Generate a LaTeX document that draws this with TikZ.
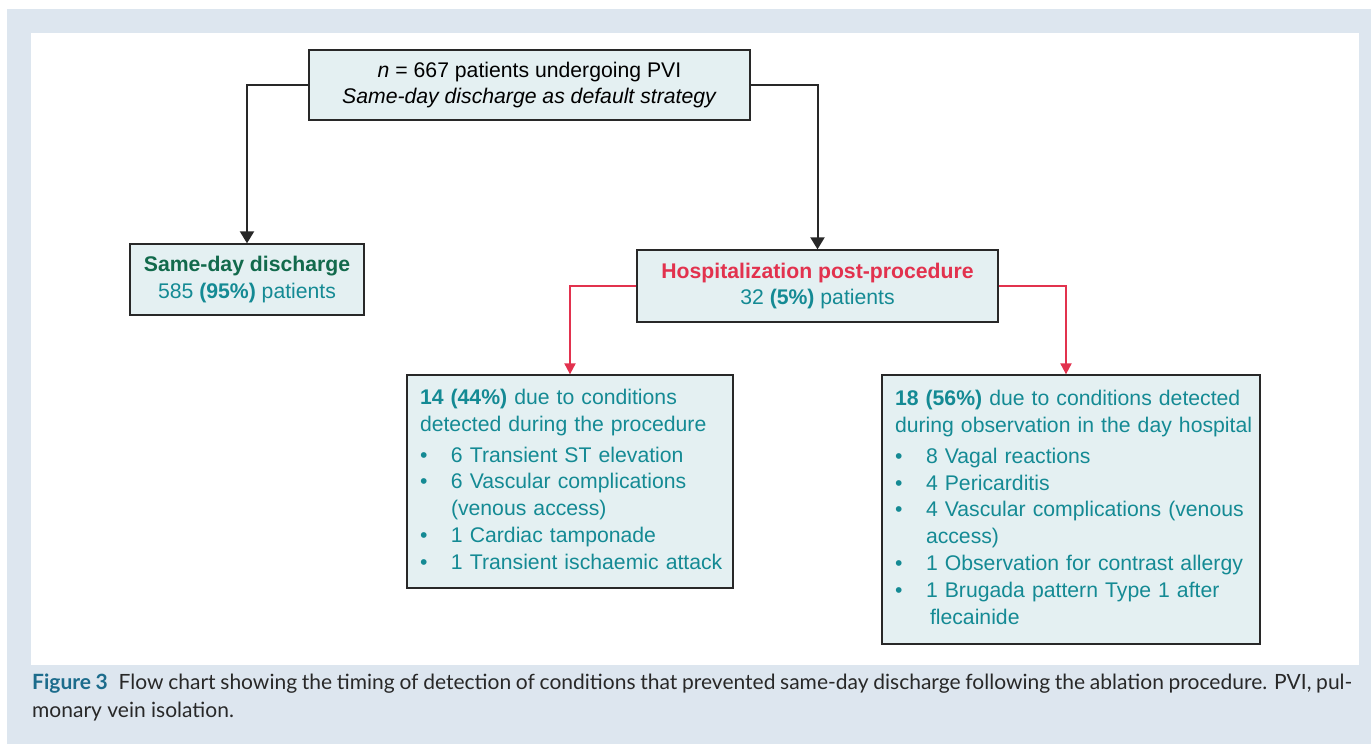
\documentclass[tikz,border=0pt]{standalone}
\usepackage{fontspec}
\setmainfont{Liberation Sans}
\newfontfamily\capfont{Lato}
\usetikzlibrary{arrows.meta}

\definecolor{bandblue}{RGB}{221,230,239}
\definecolor{boxfill}{RGB}{228,240,242}
\definecolor{tealtext}{RGB}{20,138,148}
\definecolor{greentext}{RGB}{18,106,76}
\definecolor{redtext}{RGB}{226,50,78}
\definecolor{linegrey}{RGB}{40,40,40}
\definecolor{figblue}{RGB}{28,108,140}
\definecolor{captext}{RGB}{40,40,40}

\newcommand\boxfont{\fontsize{21.2pt}{26.8pt}\selectfont}
\newcommand\capsize{\capfont\fontsize{21pt}{28pt}\selectfont}
\newcommand\bul{\makebox[31pt][l]{\textbullet}}

\tikzset{
  flowbox/.style={draw=linegrey, line width=1.3pt, fill=boxfill, font=\boxfont, inner sep=0pt},
  listbox/.style={flowbox, align=left, inner xsep=13pt, text=tealtext},
  blackarrow/.style={draw=linegrey, line width=2pt, -{Triangle[width=14pt,length=12pt]}},
  redarrow/.style={draw=redtext, line width=2pt, -{Triangle[width=11pt,length=11pt]}},
  captionline/.style={anchor=base west, inner sep=0pt, font=\capsize, text=captext},
}

\begin{document}
\begin{tikzpicture}[x=1pt, y=-1pt]
    \useasboundingbox (0,0) rectangle (1371,744);
    \fill[white] (0,0) rectangle (1371,744);
    \fill[bandblue] (7,9) rectangle (1371,744);
    \fill[white] (31,33) rectangle (1359,665);

    \node[flowbox, align=center, minimum width=441pt, minimum height=70pt, text=black] (start) at (529.5,85)
        {\textit{n} = 667 patients undergoing PVI\\ \textit{Same-day discharge as default strategy}};
    \node[flowbox, align=center, minimum width=234pt, minimum height=71pt, text=tealtext] (sameday) at (247,279.5)
        {\textcolor{greentext}{\textbf{Same-day discharge}}\\ 585 \textbf{(95\%)} patients};
    \node[flowbox, align=center, minimum width=361pt, minimum height=72pt, text=tealtext] (hosp) at (817.5,286)
        {\textcolor{redtext}{\textbf{Hospitalization post-procedure}}\\ 32 \textbf{(5\%)} patients};

    \node[listbox, text width=300pt, minimum height=213pt] (during) at (570,481.5)
        {\begin{tabular}{@{}l@{}}
         \textbf{14 (44\%)} due to conditions\\
         detected during the procedure\\[4pt]
         \bul 6 Transient ST elevation\\
         \bul 6 Vascular complications\\
         \hspace*{31pt}(venous access)\\
         \bul 1 Cardiac tamponade\\
         \bul 1 Transient ischaemic attack
         \end{tabular}};
    \node[listbox, text width=352pt, minimum height=269pt] (observ) at (1071,509.5)
        {\begin{tabular}{@{}l@{}}
         \textbf{18 (56\%)} due to conditions detected\\
         during observation in the day hospital\\[4pt]
         \bul 8 Vagal reactions\\
         \bul 4 Pericarditis\\
         \bul 4 Vascular complications (venous\\
         \hspace*{31pt}access)\\
         \bul 1 Observation for contrast allergy\\
         \bul 1 Brugada pattern Type 1 after\\
         \hspace*{35pt}flecainide
         \end{tabular}};

    \coordinate (observtop) at ([xshift=-5pt]observ.north);

    \draw[blackarrow] (start.west) -| (sameday.north);
    \draw[blackarrow] (start.east) -| (hosp.north);
    \draw[redarrow] (hosp.west) -| (during.north);
    \draw[redarrow] (hosp.east) -| (observtop);

    \node[captionline] (capone) at (32,689)
        {\makebox[1320pt][s]{\textcolor{figblue}{\textbf{Figure 3}}\hspace{0.3em} Flow chart showing the timing of detection of conditions that prevented same-day discharge following the ablation procedure. PVI, pul-}};
    \node[captionline] (captwo) at (32,717) {monary vein isolation.};
\end{tikzpicture}
\end{document}
